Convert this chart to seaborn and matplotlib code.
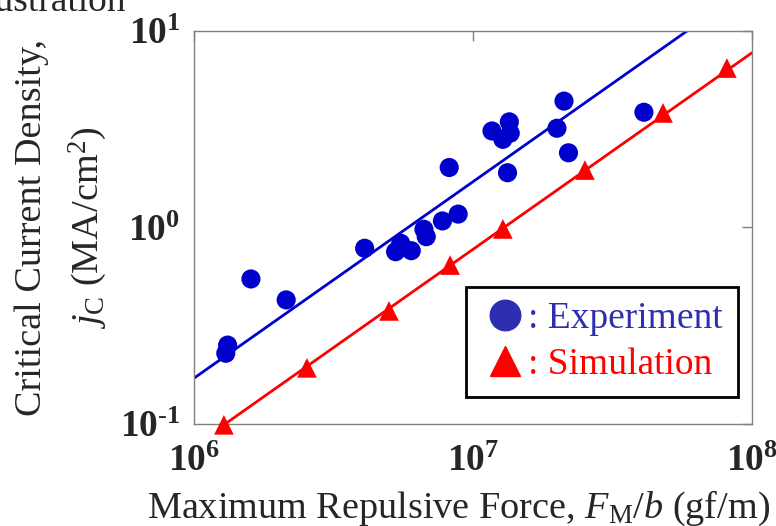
import numpy as np
import pandas as pd
import seaborn as sns
from matplotlib import pyplot as plt
from matplotlib.lines import Line2D

# experiment: max repulsive force per width (gf/m) vs critical current density (MA/cm^2)
exp_force = [1.32e6, 1.30e6, 1.60e6, 2.14e6, 4.09e6, 5.28e6, 5.51e6, 6.01e6, 6.67e6, 6.80e6, 7.77e6,
             8.85e6, 8.22e6, 1.33e7, 1.17e7, 1.35e7, 1.28e7, 1.36e7, 2.12e7, 2.00e7, 2.20e7, 4.10e7]
exp_jc = [0.252, 0.229, 0.547, 0.428, 0.784, 0.753, 0.831, 0.762, 0.979, 0.898, 1.08,
          1.17, 2.02, 1.90, 3.10, 3.45, 2.81, 3.02, 4.40, 3.20, 2.40, 3.86]

# simulation points
sim_force = [1.28e6, 2.54e6, 5.0e6, 8.28e6, 1.28e7, 2.52e7, 4.8e7, 8.13e7]
sim_jc = [0.099, 0.193, 0.376, 0.644, 0.983, 1.96, 3.83, 6.48]

# straight lines (slope 1 on log-log)
fit_force = [1.0e6, 1.0e8]
fit_jc = [0.171, 17.1]
sim_line_force = [1.28e6, 1.0e8]
sim_line_jc = [0.099, 7.75]

x_ticks = [1e6, 1e7, 1e8]
x_labels = [r'$\mathbf{10^{6}}$', r'$\mathbf{10^{7}}$', r'$\mathbf{10^{8}}$']
y_ticks = [1e-1, 1e0, 1e1]
y_labels = [r'$\mathbf{10^{\text{-}1}}$', r'$\mathbf{10^{0}}$', r'$\mathbf{10^{1}}$']

blue = '#0000cc'
red = '#ff0000'

sns.set_style('white')
plt.rcParams['font.family'] = ['Liberation Serif', 'DejaVu Serif']
plt.rcParams['mathtext.fontset'] = 'custom'
plt.rcParams['mathtext.rm'] = 'Liberation Serif'
plt.rcParams['mathtext.it'] = 'Liberation Serif:italic'
plt.rcParams['mathtext.bf'] = 'Liberation Serif:bold'

fig = plt.figure(figsize=(7.76, 5.26), dpi=100)
ax = fig.add_axes([0.25, 0.194, 0.719, 0.747])

df_exp = pd.DataFrame({'force': exp_force, 'jc': exp_jc})
df_sim = pd.DataFrame({'force': sim_force, 'jc': sim_jc})
df_fit = pd.DataFrame({'force': fit_force, 'jc': fit_jc})
df_sline = pd.DataFrame({'force': sim_line_force, 'jc': sim_line_jc})

sns.lineplot(data=df_fit, x='force', y='jc', color=blue, lw=2.0, ax=ax)
sns.lineplot(data=df_sline, x='force', y='jc', color=red, lw=2.0, ax=ax)
sns.scatterplot(data=df_exp, x='force', y='jc', color=blue, s=190, edgecolor='none', ax=ax, zorder=3)
sns.scatterplot(data=df_sim, x='force', y='jc', color=red, marker='^', s=200, edgecolor='none',
                ax=ax, zorder=3, clip_on=False)

ax.set_xscale('log')
ax.set_yscale('log')
ax.set_xlim(1e6, 1e8)
ax.set_ylim(1e-1, 1e1)
ax.set_xticks(x_ticks)
ax.set_xticklabels(x_labels)
ax.set_yticks(y_ticks)
ax.set_yticklabels(y_labels)
ax.minorticks_off()
ax.tick_params(axis='both', direction='in', length=7, width=1, color='#808080',
               top=True, right=True, labelsize=27)
ax.tick_params(axis='x', pad=15)
ax.tick_params(axis='y', pad=10)
for s in ax.spines.values():
    s.set_color('#808080')
    s.set_linewidth(1.0)

ax.set_xlabel(r'Maximum Repulsive Force, $F_\mathrm{M}/b$ (gf/m)', fontsize=27.5, labelpad=7)
ax.xaxis.label.set_x(0.475)
ax.set_ylabel('Critical Current Density,\n' + r'$j_\mathrm{C}$ (MA/cm$^2$)', fontsize=27.5,
              labelpad=8, linespacing=1.55)

handles = [Line2D([], [], ls='none', marker='o', color='#2e2eb0', markersize=22),
           Line2D([], [], ls='none', marker='^', color=red, markersize=22)]
leg = ax.legend(handles, [': Experiment', ': Simulation'], loc='lower right',
                bbox_to_anchor=(0.975, 0.069), borderaxespad=0, fontsize=27, handlelength=1.25,
                handletextpad=0.0, borderpad=0.4, labelspacing=0.3, fancybox=False,
                labelcolor=['#2e2eb0', red])
leg.get_frame().set_edgecolor('black')
leg.get_frame().set_linewidth(2)
leg.get_frame().set_alpha(1)

fig.text(-0.05, 1.03, 'Illustration', fontsize=27, va='top', ha='left')

fig.savefig('out.png', dpi=100)
